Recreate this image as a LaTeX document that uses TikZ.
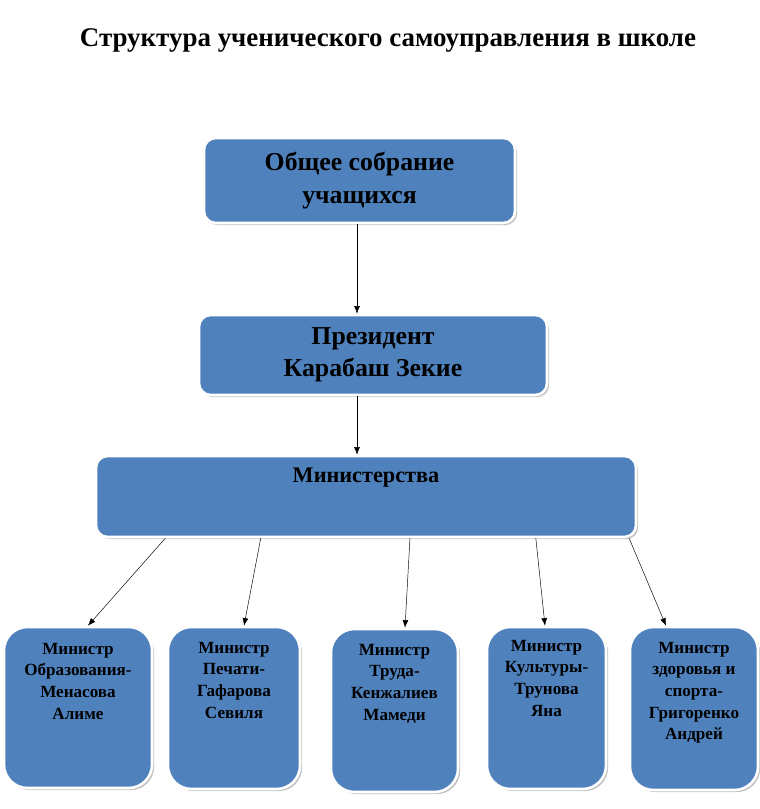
\documentclass[tikz,border=0pt]{standalone}
\usepackage{fontspec}
\setmainfont{Liberation Serif}
\usetikzlibrary{shadows,calc,arrows.meta}
\definecolor{boxblue}{RGB}{79,129,189}

\begin{document}
\begin{tikzpicture}[x=0.03cm, y=-0.03cm, line join = round, line cap = round,
    >={Latex[length=6.5pt,width=5pt]},
    box/.style={draw=white, line width=2.2pt, fill=boxblue, rounded corners=10pt,
        drop shadow={shadow xshift=1.8pt, shadow yshift=-1.8pt, fill=black!35, opacity=.7}},
    minbox/.style={box, rounded corners=20pt},
    bigtext/.style={align=center, font=\fontsize{22}{27.5}\selectfont\bfseries},
    smalltext/.style={align=center, anchor=north, font=\fontsize{14.6}{18.4}\selectfont\bfseries}]
    \useasboundingbox (0,0) rectangle (760,809);

    \node (title) at (388,40) {\fontsize{23}{26}\selectfont\bfseries Структура ученического самоуправления в школе};

    % top levels
    \node[box, minimum width=311*0.03cm, minimum height=85*0.03cm, bigtext] (meet) at (359.5,180.5) {Общее собрание\\учащихся};
    \node[box, minimum width=348*0.03cm, minimum height=80*0.03cm, bigtext] (pres) at (373,355) {Президент\\Карабаш Зекие};
    \node[box, minimum width=540*0.03cm, minimum height=81*0.03cm] (mins) at (366,496.5) {};
    \node[font=\fontsize{19}{22}\selectfont\bfseries] (minst) at (366,478) {Министерства};

    % ministers
    \node[minbox, minimum width=148*0.03cm, minimum height=161*0.03cm] (b1) at (78,707.5) {};
    \node[minbox, minimum width=132*0.03cm, minimum height=162*0.03cm] (b2) at (234,708) {};
    \node[minbox, minimum width=127*0.03cm, minimum height=163*0.03cm] (b3) at (394.5,710.5) {};
    \node[minbox, minimum width=119*0.03cm, minimum height=162*0.03cm] (b4) at (546.5,708) {};
    \node[minbox, minimum width=128*0.03cm, minimum height=163*0.03cm] (b5) at (694,708.5) {};

    \node[smalltext] (t1) at (78,639) {Министр\\Образования-\\Менасова\\Алиме};
    \node[smalltext] (t2) at (234,638) {Министр\\Печати-\\Гафарова\\Севиля};
    \node[smalltext] (t3) at (394.5,640) {Министр\\Труда-\\Кенжалиев\\Мамеди};
    \node[smalltext] (t4) at (546.5,636) {Министр\\Культуры-\\Трунова\\Яна};
    \node[smalltext] (t5) at (694,638) {Министр\\здоровья и\\спорта-\\Григоренко\\Андрей};

    \draw[->] (meet.south -| 357,0) -- (pres.north -| 357,0);
    \draw[->] (pres.south -| 357,0) -- (mins.north -| 357,0);
    \foreach \f/\b/\dx in {0.13/b1/10, 0.306/b2/10, 0.581/b3/10.5, 0.813/b4/-1.5, 0.985/b5/-28}
        \draw[->] ($(mins.south west)!\f!(mins.south east)$) -- ($(\b.north)+(\dx,0)$);
\end{tikzpicture}
\end{document}
